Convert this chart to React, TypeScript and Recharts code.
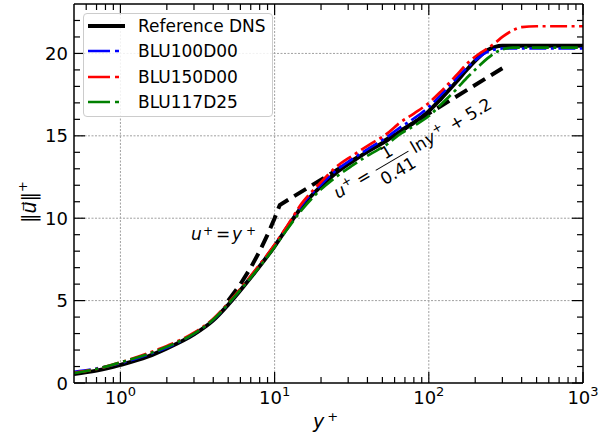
import React from 'react'
import { LineChart, Line, XAxis, YAxis, ReferenceLine, Legend } from 'recharts'

// y+ stations shared by all profiles
const yPlus = [0.5, 0.7, 1, 1.5, 2, 3, 4, 5, 7, 10, 12, 15, 20, 25, 32, 41, 53, 65, 80, 100, 120, 150, 180, 210, 240, 270, 300, 350, 400, 500, 1000]

const uDns = [0.55, 0.75, 1.1, 1.6, 2.1, 2.95, 3.8, 4.75, 6.4, 8.3, 9.4, 10.7, 11.95, 12.75, 13.45, 14.1, 14.7, 15.25, 15.8, 16.5, 17.25, 18.25, 19.1, 19.75, 20.2, 20.4, 20.46, 20.47, 20.47, 20.47, 20.47]
const uBlu100 = [0.68, 0.88, 1.2, 1.72, 2.15, 3.0, 3.85, 4.8, 6.45, 8.35, 9.45, 10.8, 12.05, 12.9, 13.6, 14.25, 14.9, 15.5, 16.05, 16.75, 17.5, 18.45, 19.2, 19.75, 20.1, 20.25, 20.3, 20.3, 20.3, 20.3, 20.3]
const uBlu150 = [0.62, 0.85, 1.25, 1.8, 2.25, 3.05, 3.9, 4.85, 6.5, 8.4, 9.5, 10.9, 12.2, 13.1, 13.8, 14.45, 15.1, 15.8, 16.35, 17.0, 17.7, 18.65, 19.45, 19.95, 20.3, 20.65, 21.0, 21.4, 21.6, 21.65, 21.65]
const uBlu117 = [0.6, 0.85, 1.25, 1.75, 2.2, 3.0, 3.85, 4.8, 6.4, 8.25, 9.3, 10.5, 11.75, 12.5, 13.2, 13.85, 14.45, 15.1, 15.6, 16.2, 16.9, 17.8, 18.6, 19.2, 19.7, 20.05, 20.25, 20.35, 20.35, 20.35, 20.35]

// viscous sublayer u+ = y+, then log law
const lawY = [5, 6, 7, 8, 9, 10, 10.8, 300]
const lawU = [5, 6, 7, 8, 9, 10, 10.8, 19.1]

const X_MAJOR = [1, 10, 100, 1000]
const X_TICKS = [0.6, 0.7, 0.8, 0.9, 1, 2, 3, 4, 5, 6, 7, 8, 9, 10, 20, 30, 40, 50, 60, 70, 80, 90, 100, 200, 300, 400, 500, 600, 700, 800, 900, 1000]
const Y_MAJOR = [0, 5, 10, 15, 20]
const Y_TICKS = [0, 1, 2, 3, 4, 5, 6, 7, 8, 9, 10, 11, 12, 13, 14, 15, 16, 17, 18, 19, 20, 21, 22]
const GRID_X = [1, 10, 100]
const GRID_Y = [5, 10, 15, 20]

const FONT = '"DejaVu Sans", sans-serif'
const DASHDOT = '17 4.5 3 4.5'

const toRows = (xs: number[], us: number[]) => xs.map((x, i) => ({ x, u: us[i] }))

const SERIES = [
  { name: 'Reference DNS', color: '#000000', width: 4, dash: undefined, rows: toRows(yPlus, uDns) },
  { name: 'BLU100D00', color: '#0000ff', width: 2.7, dash: DASHDOT, rows: toRows(yPlus, uBlu100) },
  { name: 'BLU150D00', color: '#ff0000', width: 2.7, dash: DASHDOT, rows: toRows(yPlus, uBlu150) },
  { name: 'BLU117D25', color: '#008000', width: 2.7, dash: DASHDOT, rows: toRows(yPlus, uBlu117) },
]

function BottomTick({ x, y, payload }: any) {
  const v = payload.value
  const major = X_MAJOR.includes(v)
  return (
    <g>
      <line x1={x} x2={x} y1={y} y2={y - (major ? 11 : 6)} stroke="#000" strokeWidth={1.2} />
      {major && (
        <text x={x} y={y + 21} textAnchor="middle" fontSize={18} fontFamily={FONT} fill="#000">
          10<tspan dy={-8} fontSize={13}>{Math.round(Math.log10(v))}</tspan>
        </text>
      )}
    </g>
  )
}

function TopTick({ x, y, payload }: any) {
  const major = X_MAJOR.includes(payload.value)
  return <line x1={x} x2={x} y1={y} y2={y + (major ? 11 : 6)} stroke="#000" strokeWidth={1.2} />
}

function LeftTick({ x, y, payload }: any) {
  const v = payload.value
  const major = Y_MAJOR.includes(v)
  return (
    <g>
      <line x1={x} x2={x + (major ? 11 : 6)} y1={y} y2={y} stroke="#000" strokeWidth={1.2} />
      {major && (
        <text x={x - 6} y={y + 6.5} textAnchor="end" fontSize={18} fontFamily={FONT} fill="#000">{v}</text>
      )}
    </g>
  )
}

function RightTick({ x, y, payload }: any) {
  const major = Y_MAJOR.includes(payload.value)
  return <line x1={x} x2={x - (major ? 11 : 6)} y1={y} y2={y} stroke="#000" strokeWidth={1.2} />
}

function LegendBox() {
  return (
    <div style={{ width: 188, height: 102, background: 'rgba(255,255,255,0.85)', border: '1px solid #cccccc', borderRadius: 4, fontFamily: FONT, fontSize: 17 }}>
      {SERIES.map((s, i) => (
        <div key={s.name} style={{ position: 'absolute', left: 0, top: 13 + i * 25.3 - 12, height: 24, display: 'flex', alignItems: 'center' }}>
          <svg width={50} height={24} style={{ display: 'block' }}>
            <line x1={5} x2={42} y1={12} y2={12} stroke={s.color} strokeWidth={s.width}
              strokeDasharray={s.dash ? '22 5 4 6' : undefined} />
          </svg>
          <span style={{ marginLeft: 5, color: '#000', lineHeight: '24px' }}>{s.name}</span>
        </div>
      ))}
    </div>
  )
}

export default function App() {
  return (
    <div style={{ position: 'absolute', left: 0, top: 0, width: 599, height: 438, background: '#fff' }}>
      <LineChart width={599} height={438} margin={{ top: 0, right: 0, bottom: 0, left: 0 }}>
        <XAxis xAxisId="b" dataKey="x" type="number" scale="log" domain={[0.5, 1000]} allowDataOverflow
          ticks={X_TICKS} interval={0} height={55} tickSize={0} tickMargin={0} tickLine={false}
          axisLine={{ stroke: '#000', strokeWidth: 1.5 }} tick={<BottomTick />} />
        <XAxis xAxisId="t" orientation="top" dataKey="x" type="number" scale="log" domain={[0.5, 1000]} allowDataOverflow
          ticks={X_TICKS} interval={0} height={4} tickSize={0} tickMargin={0} tickLine={false}
          axisLine={{ stroke: '#000', strokeWidth: 1.5 }} tick={<TopTick />} />
        <YAxis yAxisId="l" type="number" domain={[0, 23]} allowDataOverflow ticks={Y_TICKS} interval={0}
          width={74} tickSize={0} tickMargin={0} tickLine={false}
          axisLine={{ stroke: '#000', strokeWidth: 1.5 }} tick={<LeftTick />} />
        <YAxis yAxisId="r" orientation="right" type="number" domain={[0, 23]} allowDataOverflow ticks={Y_TICKS} interval={0}
          width={16} tickSize={0} tickMargin={0} tickLine={false}
          axisLine={{ stroke: '#000', strokeWidth: 1.5 }} tick={<RightTick />} />

        {GRID_X.map(v => (
          <ReferenceLine key={'gx' + v} x={v} xAxisId="b" yAxisId="l" stroke="#a0a0a0" strokeWidth={1} strokeDasharray="2 1.5" />
        ))}
        {GRID_Y.map(v => (
          <ReferenceLine key={'gy' + v} y={v} xAxisId="b" yAxisId="l" stroke="#a0a0a0" strokeWidth={1} strokeDasharray="2 1.5" />
        ))}

        <Line data={toRows(lawY, lawU)} dataKey="u" xAxisId="b" yAxisId="l" type="linear" stroke="#000"
          strokeWidth={4} strokeDasharray="14 7" dot={false} activeDot={false} legendType="none" isAnimationActive={false} />
        {SERIES.map(s => (
          <Line key={s.name} name={s.name} data={s.rows} dataKey="u" xAxisId="b" yAxisId="l" type="monotone"
            stroke={s.color} strokeWidth={s.width} strokeDasharray={s.dash} dot={false} activeDot={false}
            isAnimationActive={false} />
        ))}

        <Legend layout="vertical" align="center" verticalAlign="middle" content={() => <LegendBox />}
          wrapperStyle={{ left: 83, top: 13, width: 190, height: 104 }} />
      </LineChart>

      <svg width={599} height={438} style={{ position: 'absolute', left: 0, top: 0, pointerEvents: 'none' }} fontFamily={FONT}>
        {/* axis titles */}
        <text transform="translate(36, 202) rotate(-90)" textAnchor="middle" fontSize={19} fill="#000">
          ‖<tspan fontStyle="italic">u⃗</tspan>‖<tspan dy={-9} fontSize={13}>+</tspan>
        </text>
        <text x={313} y={428} fontSize={19} fill="#000">
          <tspan fontStyle="italic">y</tspan><tspan dx={3} dy={-7} fontSize={13}>+</tspan>
        </text>

        {/* viscous sublayer label */}
        <g fill="#000" fontSize={17}>
          <text x={191} y={240} fontStyle="italic">u</text>
          <text x={203} y={235} fontSize={12}>+</text>
          <text x={216} y={240}>=</text>
          <text x={232} y={240} fontStyle="italic">y</text>
          <text x={246} y={235} fontSize={12}>+</text>
        </g>

        {/* log law label */}
        <g transform="translate(338, 199) rotate(-30.5)" fill="#000" fontSize={17}>
          <text x={0} y={0} fontStyle="italic">u</text>
          <text x={11} y={-7} fontSize={12}>+</text>
          <text x={26} y={0}>=</text>
          <text x={66} y={-10} textAnchor="middle">1</text>
          <line x1={47} x2={85} y1={-5.5} y2={-5.5} stroke="#000" strokeWidth={1} />
          <text x={66} y={12} textAnchor="middle">0.41</text>
          <text x={89} y={0}>ln</text>
          <text x={105} y={0} fontStyle="italic">y</text>
          <text x={116} y={-7} fontSize={12}>+</text>
          <text x={134} y={0}>+</text>
          <text x={153} y={0}>5.2</text>
        </g>
      </svg>
    </div>
  )
}
